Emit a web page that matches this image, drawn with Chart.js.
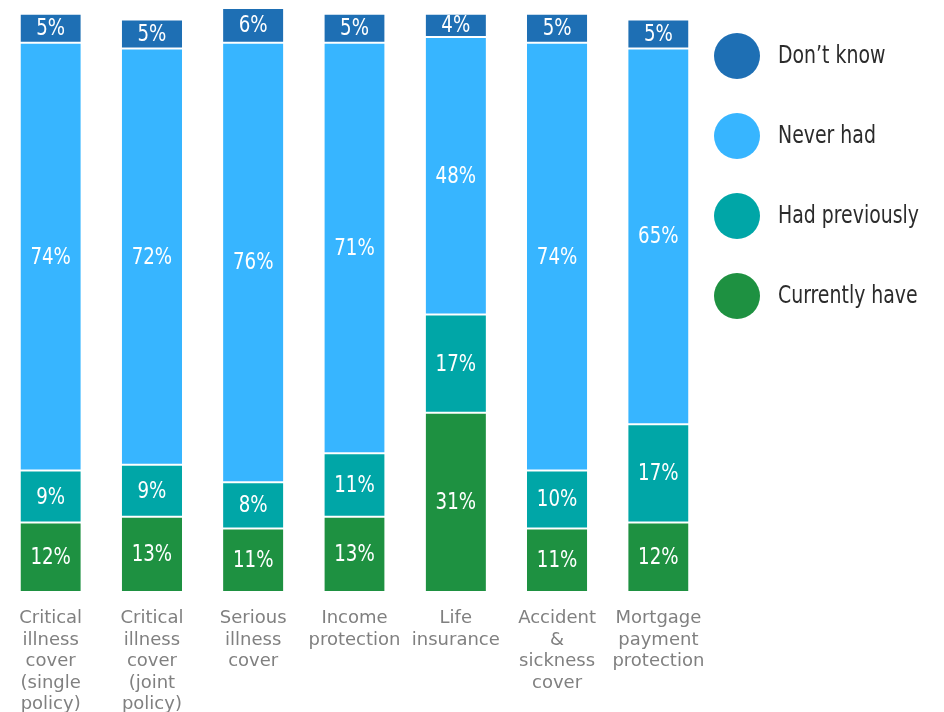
<!DOCTYPE html>
<html>
<head>
<meta charset="utf-8">
<script src="https://cdn.jsdelivr.net/npm/chart.js@4/dist/chart.umd.min.js"></script>
<style>
html,body{margin:0;padding:0;background:#fff;}
#wrap{width:944px;height:712px;}
</style>
</head>
<body>
<div id="wrap"><canvas id="c" width="944" height="712"></canvas></div>
<script>
const categories = [
  ["Critical","illness","cover","(single","policy)"],
  ["Critical","illness","cover","(joint","policy)"],
  ["Serious","illness","cover"],
  ["Income","protection"],
  ["Life","insurance"],
  ["Accident","&","sickness","cover"],
  ["Mortgage","payment","protection"]
];
const currentlyHave = [12, 13, 11, 13, 31, 11, 12];
const hadPreviously = [9, 9, 8, 11, 17, 10, 17];
const neverHad = [74, 72, 76, 71, 48, 74, 65];
const dontKnow = [5, 5, 6, 5, 4, 5, 5];
const seriesNames = ["Currently have", "Had previously", "Never had", "Don\u2019t know"];
const seriesColors = ["#1e9141", "#00a6a7", "#37b5ff", "#1e6fb4"];

const condFont = "'DejaVu Sans Condensed', 'Roboto Condensed', Roboto, sans-serif";

function squeezeText(ctx, text, x, y, sx) {
  ctx.save();
  ctx.translate(x, y);
  ctx.scale(sx, 1);
  ctx.fillText(text, 0, 0);
  ctx.restore();
}

const valueLabels = {
  id: 'valueLabels',
  afterDatasetsDraw(chart) {
    const ctx = chart.ctx;
    ctx.save();
    ctx.fillStyle = '#ffffff';
    ctx.textAlign = 'center';
    ctx.textBaseline = 'middle';
    ctx.font = "23px " + condFont;
    chart.data.datasets.forEach((ds, di) => {
      const meta = chart.getDatasetMeta(di);
      meta.data.forEach((el, i) => {
        const cy = (el.y + el.base) / 2;
        squeezeText(ctx, ds.data[i] + '%', el.x, cy + 1, 0.88);
      });
    });
    ctx.restore();
  }
};

const sideLegend = {
  id: 'sideLegend',
  afterDraw(chart) {
    const ctx = chart.ctx;
    ctx.save();
    const ds = chart.data.datasets.slice().reverse();
    ds.forEach((d, i) => {
      const cy = 56 + i * 80;
      ctx.beginPath();
      ctx.arc(737, cy, 23, 0, Math.PI * 2);
      ctx.fillStyle = d.backgroundColor;
      ctx.fill();
      ctx.fillStyle = '#2b2b2b';
      ctx.textAlign = 'left';
      ctx.textBaseline = 'middle';
      ctx.font = "25px " + condFont;
      squeezeText(ctx, d.label, 778, cy, 0.84);
    });
    ctx.restore();
  }
};

const datasets = [currentlyHave, hadPreviously, neverHad, dontKnow].map((vals, i) => ({
  label: seriesNames[i],
  data: vals,
  backgroundColor: seriesColors[i],
  borderColor: '#ffffff',
  borderWidth: {top: 1, bottom: 1, left: 0, right: 0},
  borderSkipped: false,
  barPercentage: 0.595,
  categoryPercentage: 1.0
}));

new Chart(document.getElementById('c'), {
  type: 'bar',
  data: { labels: categories, datasets: datasets },
  options: {
    responsive: false,
    animation: false,
    layout: { padding: { left: 0, right: 235, top: 8, bottom: 0 } },
    plugins: { legend: { display: false }, tooltip: { enabled: false } },
    scales: {
      x: {
        stacked: true,
        grid: { display: false, drawTicks: false },
        border: { display: false },
        ticks: {
          autoSkip: false,
          maxRotation: 0,
          minRotation: 0,
          padding: 16,
          color: '#808080',
          font: { family: "'DejaVu Sans', sans-serif", size: 18, lineHeight: 1.19 }
        },
        afterFit(scale) { scale.height = 120; }
      },
      y: {
        stacked: true,
        display: false,
        min: 0,
        max: 101
      }
    }
  },
  plugins: [valueLabels, sideLegend]
});
</script>
</body>
</html>
